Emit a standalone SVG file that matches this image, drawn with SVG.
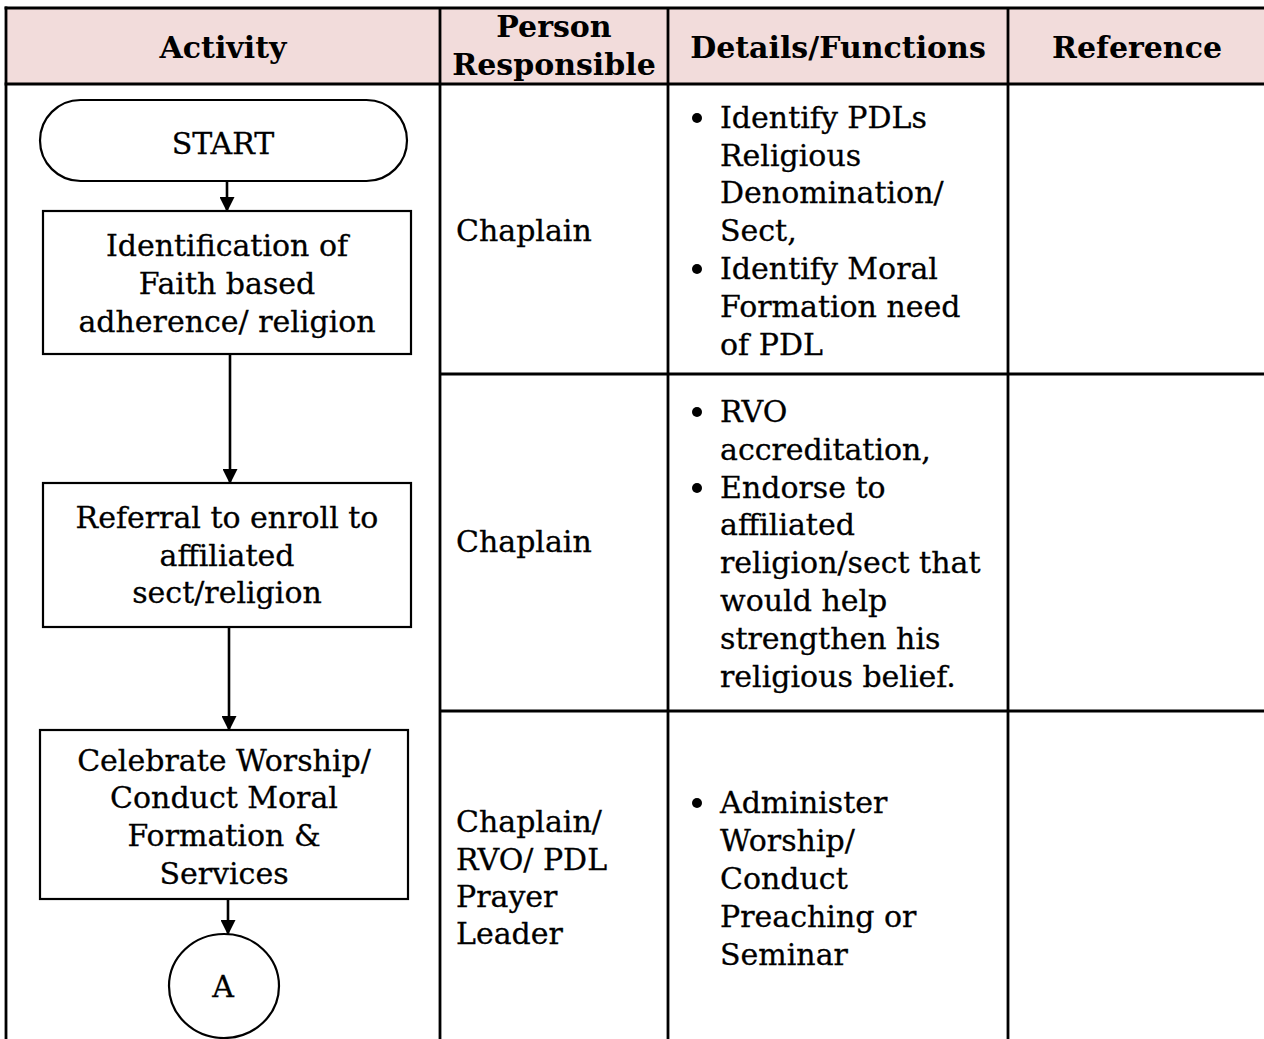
<svg xmlns="http://www.w3.org/2000/svg" width="1264" height="1039" viewBox="0 0 1264 1039">
<defs>
<marker id="arr" markerWidth="15" markerHeight="15" refX="14" refY="7.5" orient="auto" markerUnits="userSpaceOnUse">
<path d="M0,0 L15,7.5 L0,15 Z" fill="#000"/>
</marker>
<style>
.grid{stroke:#000;stroke-width:2.8;fill:none}
.shape{fill:#fff;stroke:#000;stroke-width:2.2}
.hd{font-family:"DejaVu Serif",serif;font-weight:bold;font-size:30px;fill:#000;text-anchor:middle}
.t{font-family:"DejaVu Serif",serif;font-size:30px;fill:#000;stroke:#000;stroke-width:0.3}
.c{text-anchor:middle}
.conn{stroke:#000;stroke-width:2.6;fill:none;marker-end:url(#arr)}
</style>
</defs>
<rect x="0" y="0" width="1264" height="1039" fill="#fff"/>
<g id="table">
<rect x="6" y="8" width="1260" height="76" fill="#f2dcdb"/>
<line class="grid" x1="4.6" y1="8" x2="1266" y2="8"/>
<line class="grid" x1="4.6" y1="84" x2="1266" y2="84"/>
<line class="grid" x1="440" y1="374" x2="1266" y2="374"/>
<line class="grid" x1="440" y1="711" x2="1266" y2="711"/>
<line class="grid" x1="6" y1="6.6" x2="6" y2="1039"/>
<line class="grid" x1="440" y1="8" x2="440" y2="1039"/>
<line class="grid" x1="668" y1="8" x2="668" y2="1039"/>
<line class="grid" x1="1008" y1="8" x2="1008" y2="1039"/>
<text class="hd" x="223" y="58">Activity</text>
<text class="hd" x="554" y="37">Person</text>
<text class="hd" x="554" y="75">Responsible</text>
<text class="hd" x="838" y="58">Details/Functions</text>
<text class="hd" x="1137" y="58">Reference</text>
</g>
<g id="start">
<rect class="shape" x="40" y="100" width="367" height="81" rx="40.5" ry="40.5"/>
<text class="t c" x="223" y="154">START</text>
</g>
<g id="identification">
<rect class="shape" x="43" y="211" width="368" height="143"/>
<text class="t c" x="227" y="256">Identification of</text>
<text class="t c" x="227" y="294">Faith based</text>
<text class="t c" x="227" y="332">adherence/ religion</text>
</g>
<g id="referral">
<rect class="shape" x="43" y="483" width="368" height="144"/>
<text class="t c" x="227" y="528">Referral to enroll to</text>
<text class="t c" x="227" y="566">affiliated</text>
<text class="t c" x="227" y="603">sect/religion</text>
</g>
<g id="celebrate">
<rect class="shape" x="40" y="730" width="368" height="169"/>
<text class="t c" x="224" y="771">Celebrate Worship/</text>
<text class="t c" x="224" y="808">Conduct Moral</text>
<text class="t c" x="224" y="846">Formation &amp;</text>
<text class="t c" x="224" y="884">Services</text>
</g>
<g id="connectorA">
<ellipse class="shape" cx="224" cy="986" rx="55" ry="52"/>
<text class="t c" x="223" y="997">A</text>
</g>
<g id="connectors">
<line class="conn" x1="227" y1="181" x2="227" y2="211"/>
<line class="conn" x1="230" y1="354" x2="230" y2="483"/>
<line class="conn" x1="229" y1="627" x2="229" y2="730"/>
<line class="conn" x1="228" y1="899" x2="228" y2="934"/>
</g>
<g id="row1">
<text class="t" x="456" y="241">Chaplain</text>
<circle cx="697" cy="118" r="5"/>
<text class="t" x="720" y="128">Identify PDLs</text>
<text class="t" x="720" y="166">Religious</text>
<text class="t" x="720" y="203">Denomination/</text>
<text class="t" x="720" y="241">Sect,</text>
<circle cx="697" cy="269" r="5"/>
<text class="t" x="720" y="279">Identify Moral</text>
<text class="t" x="720" y="317">Formation need</text>
<text class="t" x="720" y="355">of PDL</text>
</g>
<g id="row2">
<text class="t" x="456" y="552">Chaplain</text>
<circle cx="697" cy="412" r="5"/>
<text class="t" x="720" y="422">RVO</text>
<text class="t" x="720" y="460">accreditation,</text>
<circle cx="697" cy="488" r="5"/>
<text class="t" x="720" y="498">Endorse to</text>
<text class="t" x="720" y="535">affiliated</text>
<text class="t" x="720" y="573">religion/sect that</text>
<text class="t" x="720" y="611">would help</text>
<text class="t" x="720" y="649">strengthen his</text>
<text class="t" x="720" y="687">religious belief.</text>
</g>
<g id="row3">
<text class="t" x="456" y="832">Chaplain/</text>
<text class="t" x="456" y="870">RVO/ PDL</text>
<text class="t" x="456" y="907">Prayer</text>
<text class="t" x="456" y="944">Leader</text>
<circle cx="697" cy="803" r="5"/>
<text class="t" x="720" y="813">Administer</text>
<text class="t" x="720" y="851">Worship/</text>
<text class="t" x="720" y="889">Conduct</text>
<text class="t" x="720" y="927">Preaching or</text>
<text class="t" x="720" y="965">Seminar</text>
</g>
</svg>
